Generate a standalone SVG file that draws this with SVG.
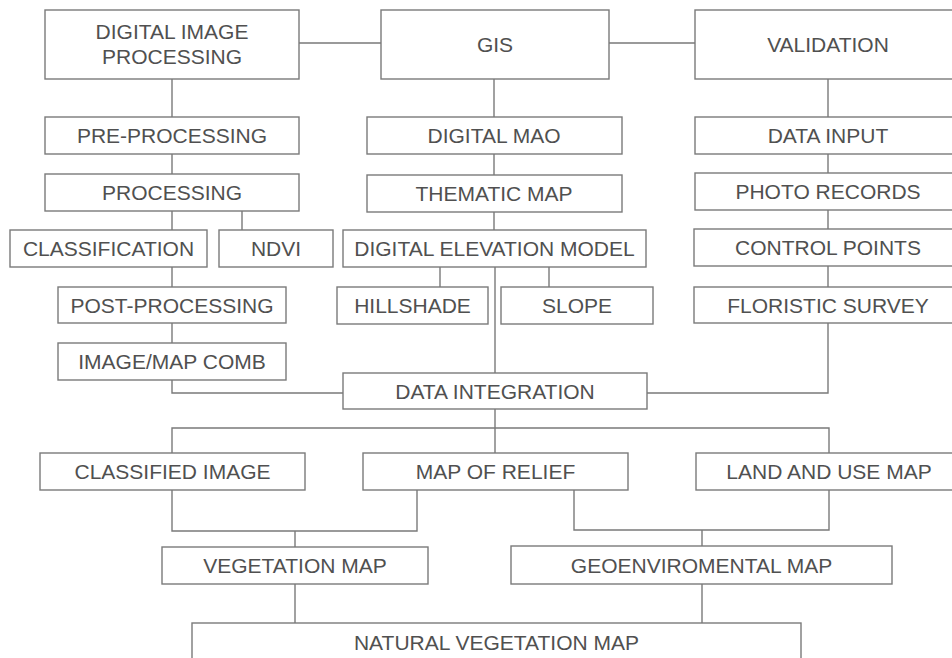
<svg xmlns="http://www.w3.org/2000/svg" width="952" height="658" viewBox="0 0 952 658">
<style>
.box{fill:#ffffff;stroke:#7a7a7a;stroke-width:1.4}
.t{font-family:"Liberation Sans",Arial,Helvetica,sans-serif;font-size:21px;fill:#505050;text-anchor:middle}
.c{fill:none;stroke:#7a7a7a;stroke-width:1.4}
</style>
<rect width="952" height="658" fill="#ffffff"/>
<g id="connectors">
<path class="c" d="M299 43H381M609 43H695"/>
<path class="c" d="M172 79V117M494 79V117M828 79V117"/>
<path class="c" d="M172 154V174M494 154V175M828 154V173"/>
<path class="c" d="M172 211V230M242 211V230M494 212V230M828 210V229"/>
<path class="c" d="M172 267V287M440 267V287M549 267V287M495 267V373M828 266V287"/>
<path class="c" d="M172 323V343"/>
<path class="c" d="M172 380V393H343M828 323V393H647"/>
<path class="c" d="M495 409V453M172 453V428H829V453"/>
<path class="c" d="M172 490V531H417V490M295 531V547"/>
<path class="c" d="M574 490V530H829V490M702 530V546"/>
<path class="c" d="M295 584V623M702 584V623"/>
</g>
<g id="dip"><rect class="box" x="45" y="10" width="254" height="69"/><text class="t" x="172" y="39">DIGITAL IMAGE</text><text class="t" x="172" y="64">PROCESSING</text></g>
<g id="gis"><rect class="box" x="381" y="10" width="228" height="69"/><text class="t" x="495" y="52">GIS</text></g>
<g id="validation"><rect class="box" x="695" y="10" width="266" height="69"/><text class="t" x="828" y="52">VALIDATION</text></g>
<g id="preprocessing"><rect class="box" x="45" y="117" width="254" height="37"/><text class="t" x="172" y="143">PRE-PROCESSING</text></g>
<g id="digitalmao"><rect class="box" x="367" y="117" width="255" height="37"/><text class="t" x="494" y="143">DIGITAL MAO</text></g>
<g id="datainput"><rect class="box" x="695" y="117" width="266" height="37"/><text class="t" x="828" y="143">DATA INPUT</text></g>
<g id="processing"><rect class="box" x="45" y="174" width="254" height="37"/><text class="t" x="172" y="200">PROCESSING</text></g>
<g id="thematic"><rect class="box" x="367" y="175" width="255" height="37"/><text class="t" x="494" y="201">THEMATIC MAP</text></g>
<g id="photo"><rect class="box" x="695" y="173" width="266" height="37"/><text class="t" x="828" y="199">PHOTO RECORDS</text></g>
<g id="classification"><rect class="box" x="10" y="230" width="197" height="37"/><text class="t" x="108.5" y="256">CLASSIFICATION</text></g>
<g id="ndvi"><rect class="box" x="219" y="230" width="114" height="37"/><text class="t" x="276" y="256">NDVI</text></g>
<g id="dem"><rect class="box" x="343" y="230" width="303" height="37"/><text class="t" x="494.5" y="256">DIGITAL ELEVATION MODEL</text></g>
<g id="control"><rect class="box" x="694" y="229" width="267" height="37"/><text class="t" x="828" y="255">CONTROL POINTS</text></g>
<g id="postprocessing"><rect class="box" x="58" y="287" width="228" height="36"/><text class="t" x="172" y="312.5">POST-PROCESSING</text></g>
<g id="hillshade"><rect class="box" x="337" y="287" width="151" height="37"/><text class="t" x="412.5" y="313">HILLSHADE</text></g>
<g id="slope"><rect class="box" x="501" y="287" width="152" height="37"/><text class="t" x="577" y="313">SLOPE</text></g>
<g id="floristic"><rect class="box" x="694" y="287" width="267" height="36"/><text class="t" x="828" y="312.5">FLORISTIC SURVEY</text></g>
<g id="imagemap"><rect class="box" x="58" y="343" width="228" height="37"/><text class="t" x="172" y="369">IMAGE/MAP COMB</text></g>
<g id="dataintegration"><rect class="box" x="343" y="373" width="304" height="36"/><text class="t" x="495" y="398.5">DATA INTEGRATION</text></g>
<g id="classified"><rect class="box" x="40" y="453" width="265" height="37"/><text class="t" x="172.5" y="479">CLASSIFIED IMAGE</text></g>
<g id="relief"><rect class="box" x="363" y="453" width="265" height="37"/><text class="t" x="495.5" y="479">MAP OF RELIEF</text></g>
<g id="landuse"><rect class="box" x="696" y="453" width="266" height="37"/><text class="t" x="829" y="479">LAND AND USE MAP</text></g>
<g id="vegetation"><rect class="box" x="162" y="547" width="266" height="37"/><text class="t" x="295" y="573">VEGETATION MAP</text></g>
<g id="geoenv"><rect class="box" x="511" y="546" width="381" height="38"/><text class="t" x="701.5" y="572.5">GEOENVIROMENTAL MAP</text></g>
<g id="natural"><rect class="box" x="192" y="623" width="609" height="50"/><text class="t" x="496.5" y="650">NATURAL VEGETATION MAP</text></g>
</svg>
